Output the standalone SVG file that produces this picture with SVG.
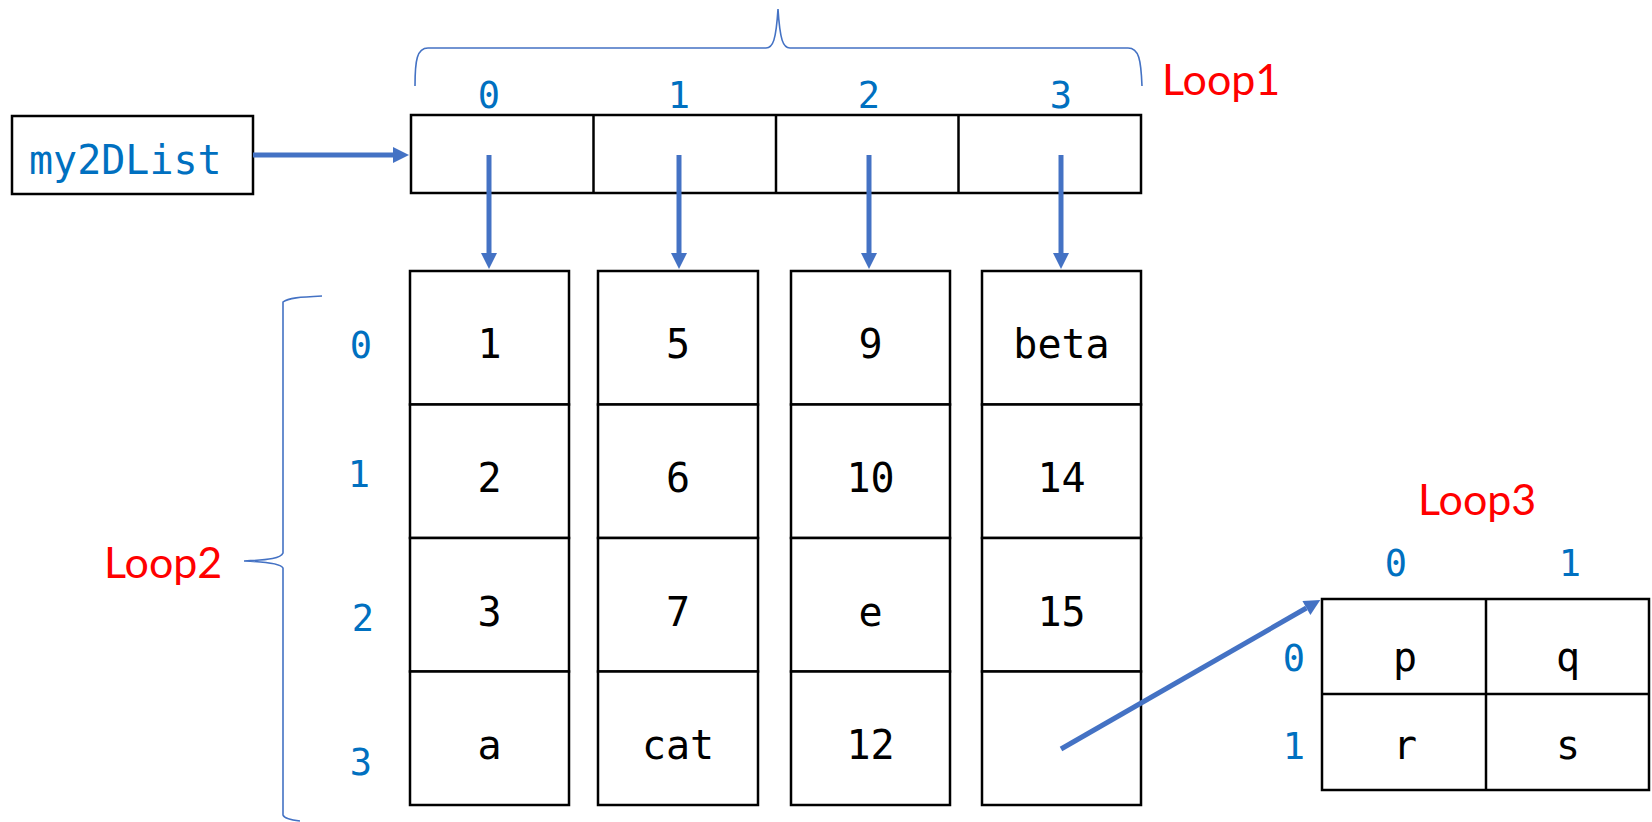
<svg xmlns="http://www.w3.org/2000/svg" width="1652" height="822" viewBox="0 0 1652 822">
<style>
.box{fill:#fff;stroke:#000;stroke-width:2.5}
.val{font-family:"DejaVu Sans Mono","Liberation Mono",monospace;font-size:40px;fill:#000;text-anchor:middle}
.idx{font-family:"DejaVu Sans Mono","Liberation Mono",monospace;font-size:37px;fill:#0070C0;text-anchor:middle}
.loop{font-family:Lato,"Liberation Sans",sans-serif;font-size:43px;fill:#FF0000}
.brace{fill:none;stroke:#4472C4;stroke-width:1.6}
.conn{stroke:#4472C4;stroke-width:5;fill:none;marker-end:url(#ah)}
</style>
<defs>
<marker id="ah" viewBox="0 0 10 10" refX="0" refY="5" markerWidth="18" markerHeight="16" markerUnits="userSpaceOnUse" orient="auto">
<path d="M0,0 L10,5 L0,10 z" fill="#4472C4"/>
</marker>
</defs>
<rect width="1652" height="822" fill="#fff"/>

<g id="my2DList">
<rect class="box" x="12" y="116" width="241" height="78"/>
<text x="29" y="174" font-family="DejaVu Sans Mono, Liberation Mono, monospace" font-size="40" fill="#0070C0">my2DList</text>
</g>

<g id="outer-list">
<rect class="box" x="411" y="115" width="730" height="78"/>
<line x1="593.5" y1="115" x2="593.5" y2="193" stroke="#000" stroke-width="2.5"/>
<line x1="776" y1="115" x2="776" y2="193" stroke="#000" stroke-width="2.5"/>
<line x1="958.5" y1="115" x2="958.5" y2="193" stroke="#000" stroke-width="2.5"/>
<text class="idx" x="489" y="108">0</text>
<text class="idx" x="679" y="108">1</text>
<text class="idx" x="869" y="108">2</text>
<text class="idx" x="1061" y="108">3</text>
</g>

<g id="brace-loop1">
<path class="brace" d="M415,86 C415,60 417,48 428,48 L766,48 C773,48 776,40 778,9 C780,40 783,48 790,48 L1128,48 C1139,48 1141,60 1142,86"/>
<text class="loop" x="1162" y="95">Loop1</text>
</g>

<g id="brace-loop2">
<path class="brace" d="M322,296 C300,297 288,298 283,302 L283,553 C281,558 270,560 244,561 C270,562 281,564 283,568 L283,815 C284,818 290,820 300,821"/>
<text class="loop" x="104" y="578">Loop2</text>
<text class="idx" x="361" y="358">0</text>
<text class="idx" x="359" y="487">1</text>
<text class="idx" x="363" y="631">2</text>
<text class="idx" x="361" y="775">3</text>
</g>

<g id="col0">
<rect class="box" x="410" y="271" width="159" height="133.5"/>
<rect class="box" x="410" y="404.5" width="159" height="133.5"/>
<rect class="box" x="410" y="538" width="159" height="133.5"/>
<rect class="box" x="410" y="671.5" width="159" height="133.5"/>
<text class="val" x="489.5" y="358">1</text>
<text class="val" x="489.5" y="492">2</text>
<text class="val" x="489.5" y="626">3</text>
<text class="val" x="489.5" y="759">a</text>
</g>

<g id="col1">
<rect class="box" x="598" y="271" width="160" height="133.5"/>
<rect class="box" x="598" y="404.5" width="160" height="133.5"/>
<rect class="box" x="598" y="538" width="160" height="133.5"/>
<rect class="box" x="598" y="671.5" width="160" height="133.5"/>
<text class="val" x="678" y="358">5</text>
<text class="val" x="678" y="492">6</text>
<text class="val" x="678" y="626">7</text>
<text class="val" x="678" y="759">cat</text>
</g>

<g id="col2">
<rect class="box" x="791" y="271" width="159" height="133.5"/>
<rect class="box" x="791" y="404.5" width="159" height="133.5"/>
<rect class="box" x="791" y="538" width="159" height="133.5"/>
<rect class="box" x="791" y="671.5" width="159" height="133.5"/>
<text class="val" x="870.5" y="358">9</text>
<text class="val" x="870.5" y="492">10</text>
<text class="val" x="870.5" y="626">e</text>
<text class="val" x="870.5" y="759">12</text>
</g>

<g id="col3">
<rect class="box" x="982" y="271" width="159" height="133.5"/>
<rect class="box" x="982" y="404.5" width="159" height="133.5"/>
<rect class="box" x="982" y="538" width="159" height="133.5"/>
<rect class="box" x="982" y="671.5" width="159" height="133.5"/>
<text class="val" x="1061.5" y="358">beta</text>
<text class="val" x="1061.5" y="492">14</text>
<text class="val" x="1061.5" y="626">15</text>
</g>

<g id="inner-grid">
<rect class="box" x="1322" y="599" width="327" height="191"/>
<line x1="1486" y1="599" x2="1486" y2="790" stroke="#000" stroke-width="2.5"/>
<line x1="1322" y1="694" x2="1649" y2="694" stroke="#000" stroke-width="2.5"/>
<text class="val" x="1405" y="671">p</text>
<text class="val" x="1568" y="671">q</text>
<text class="val" x="1405" y="759">r</text>
<text class="val" x="1568" y="759">s</text>
<text class="loop" x="1418" y="515">Loop3</text>
<text class="idx" x="1396" y="576">0</text>
<text class="idx" x="1570" y="576">1</text>
<text class="idx" x="1294" y="671">0</text>
<text class="idx" x="1294" y="759">1</text>
</g>

<g id="connectors">
<line class="conn" x1="253" y1="155" x2="393" y2="155"/>
<line class="conn" x1="489" y1="155" x2="489" y2="253"/>
<line class="conn" x1="679" y1="155" x2="679" y2="253"/>
<line class="conn" x1="869" y1="155" x2="869" y2="253"/>
<line class="conn" x1="1061" y1="155" x2="1061" y2="253"/>
<line class="conn" x1="1061" y1="749" x2="1306.4" y2="608"/>
</g>
</svg>
